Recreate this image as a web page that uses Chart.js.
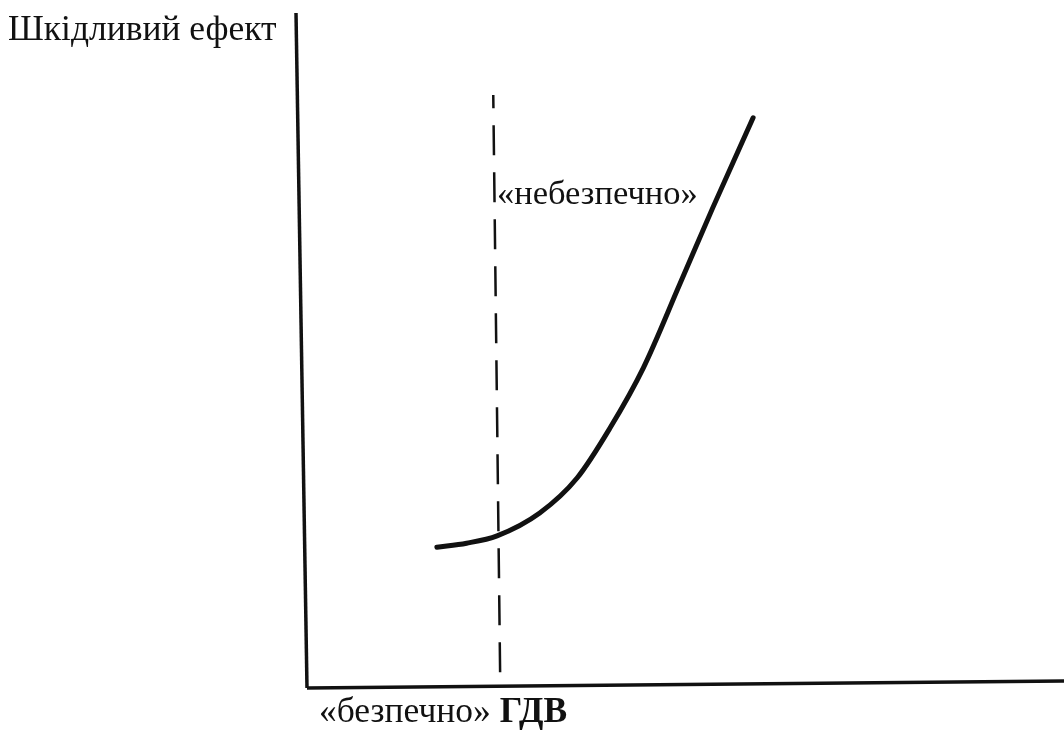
<!DOCTYPE html>
<html>
<head>
<meta charset="utf-8">
<script src="https://cdn.jsdelivr.net/npm/chart.js@4"></script>
<style>
  html, body { margin: 0; padding: 0; background: #fff; }
  #wrap { width: 1064px; height: 732px; }
</style>
</head>
<body>
<div id="wrap"><canvas id="effect" width="1064" height="732"></canvas></div>
<script>
// curve: harmful effect vs dose
const doseX = [17.7, 21.6, 25.6, 31.2, 36.1, 40.4, 44.8, 49.6, 53.9, 59.2];
const effectY = [20.5, 21.1, 22.2, 25.6, 30.8, 38.2, 47.2, 59.7, 71.0, 84.4];

// threshold (ГДВ) dashed line
const limitX = [26.0, 25.1];
const limitY = [1.9, 87.8];

const yTitle = "Шкідливий ефект";
const dangerLabel = "«небезпечно»";
const safeLabel = "«безпечно» ";
const limitLabel = "ГДВ";

const serif = "'Liberation Serif', 'DejaVu Serif', serif";

const labelsPlugin = {
  id: "labels",
  afterDatasetsDraw(chart) {
    const ctx = chart.ctx;
    const x = chart.scales.x;
    const y = chart.scales.y;
    const x0 = x.getPixelForValue(0);
    const y0 = y.getPixelForValue(0);

    ctx.save();
    // axes, slightly skewed like the hand drawing
    ctx.strokeStyle = "#111";
    ctx.lineWidth = 3.5;
    ctx.beginPath();
    ctx.moveTo(x0 - 6, y.getPixelForValue(100));
    ctx.lineTo(x0 + 5, y0 + 3);
    ctx.stroke();
    ctx.beginPath();
    ctx.moveTo(x0 + 5, y0 + 3);
    ctx.lineTo(x.getPixelForValue(100), y0 - 4);
    ctx.stroke();

    ctx.fillStyle = "#111";
    ctx.textBaseline = "alphabetic";
    ctx.textAlign = "left";

    ctx.font = "35.5px " + serif;
    ctx.fillText(yTitle, 8, 40);

    ctx.font = "34.5px " + serif;
    ctx.fillText(dangerLabel, 497, 204);

    ctx.font = "35.5px " + serif;
    ctx.fillText(safeLabel, 319, 722);
    const w = ctx.measureText(safeLabel).width;
    ctx.font = "bold 35.5px " + serif;
    ctx.fillText(limitLabel, 319 + w, 722);
    ctx.restore();
  }
};

new Chart("effect", {
  type: "scatter",
  data: {
    datasets: [
      {
        data: doseX.map((v, i) => ({ x: v, y: effectY[i] })),
        showLine: true,
        borderColor: "#111",
        borderWidth: 5,
        pointRadius: 0,
        cubicInterpolationMode: "monotone",
        borderCapStyle: "round"
      },
      {
        data: limitX.map((v, i) => ({ x: v, y: limitY[i] })),
        showLine: true,
        borderColor: "#111",
        borderWidth: 2.5,
        borderDash: [30, 17],
        pointRadius: 0
      }
    ]
  },
  options: {
    responsive: false,
    animation: false,
    layout: { padding: { left: 302, top: 13, right: 0, bottom: 47 } },
    scales: {
      x: { display: false, min: 0, max: 100 },
      y: { display: false, min: 0, max: 100 }
    },
    plugins: {
      legend: false,
      title: false,
      tooltip: false
    }
  },
  plugins: [labelsPlugin]
});
</script>
</body>
</html>
